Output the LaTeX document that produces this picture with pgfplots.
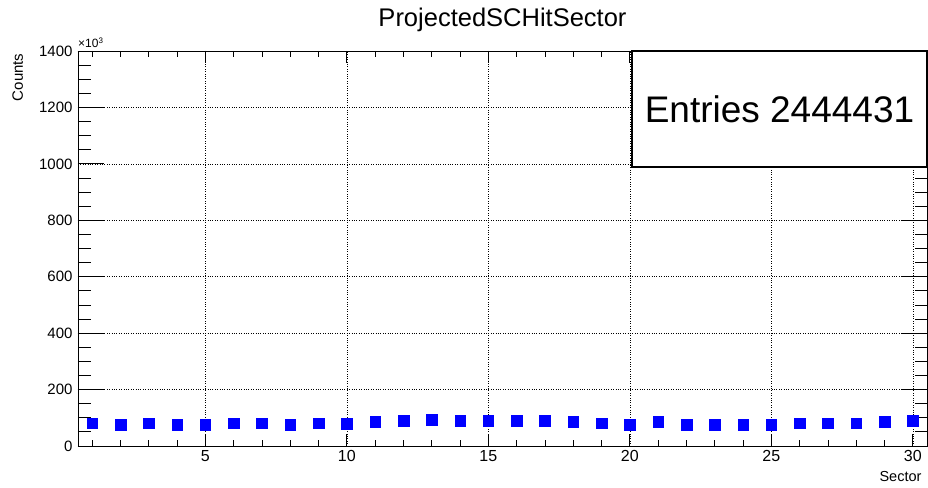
\documentclass[border=0pt]{standalone}
\usepackage{fontspec}
\setmainfont{Liberation Sans}
\usepackage{pgfplots}
\pgfplotsset{compat=1.18}
\begin{document}
\begin{tikzpicture}
\begin{axis}[
  name=ax,
  at={(0,0)}, anchor=south west,
  scale only axis,
  width=849pt, height=395pt,
  xmin=0.5, xmax=30.5, ymin=0, ymax=1400,
  xtick={5,10,...,30},
  minor xtick={1,...,30},
  ytick={0,200,...,1400},
  minor ytick={50,100,...,1400},
  grid=major,
  major grid style={black, dotted, line width=0.6pt},
  minor grid style={draw=none},
  tick align=inside,
  axis line style={line width=0.9pt},
  every tick/.style={black, line width=0.8pt},
  x tick style={/pgfplots/major tick length=12pt, /pgfplots/minor tick length=6pt},
  y tick style={/pgfplots/major tick length=26pt, /pgfplots/minor tick length=12.5pt},
  /pgf/number format/assume math mode=true,
  /pgf/number format/1000 sep={},
  xticklabel style={font=\fontsize{16}{18}\selectfont, yshift=-1pt},
  yticklabel style={font=\fontsize{15}{17}\selectfont, xshift=-2pt},
  scaled y ticks=false,
]
\addplot[only marks, mark=square*, mark size=5.3pt, color=blue, mark options={fill=blue, draw=blue}]
coordinates {
(1,80.6) (2,74.6) (3,80.6) (4,74.6) (5,74.6) (6,80.6) (7,80.6) (8,74.6) (9,80.6) (10,79.4)
(11,85.3) (12,88.9) (13,93.7) (14,88.9) (15,88.9) (16,88.9) (17,88.9) (18,85.3) (19,80.6) (20,74.6)
(21,85.3) (22,74.6) (23,74.6) (24,74.6) (25,74.6) (26,80.6) (27,80.6) (28,80.6) (29,85.3) (30,88.9)
};
\end{axis}
% stats box
\draw[line width=1.2pt, fill=white] ([xshift=-295pt]ax.north east) rectangle ([yshift=-116pt]ax.north east);
\node[font=\fontsize{37}{40}\selectfont] at ([xshift=-147.5pt,yshift=-58pt]ax.north east) {Entries 2444431};
% title
\node[font=\fontsize{25.5}{28}\selectfont, anchor=base] at ([yshift=24pt]ax.north) {ProjectedSCHitSector};
% axis labels
\node[font=\fontsize{14.5}{16}\selectfont, anchor=base east] at ([xshift=-2pt,yshift=-35pt]ax.south east) {Sector};
\node[font=\fontsize{15}{17}\selectfont, rotate=90, anchor=base east] at ([xshift=-55pt,yshift=1pt]ax.north west) {Counts};
\node[font=\fontsize{12}{14}\selectfont, anchor=south west, inner sep=0pt] at ([yshift=3pt]ax.north west) {×10\textsuperscript{3}};
\pgfresetboundingbox
\path ([xshift=-78pt,yshift=-41pt]ax.south west) rectangle ([xshift=1pt,yshift=51pt]ax.north east);
\end{tikzpicture}
\end{document}
